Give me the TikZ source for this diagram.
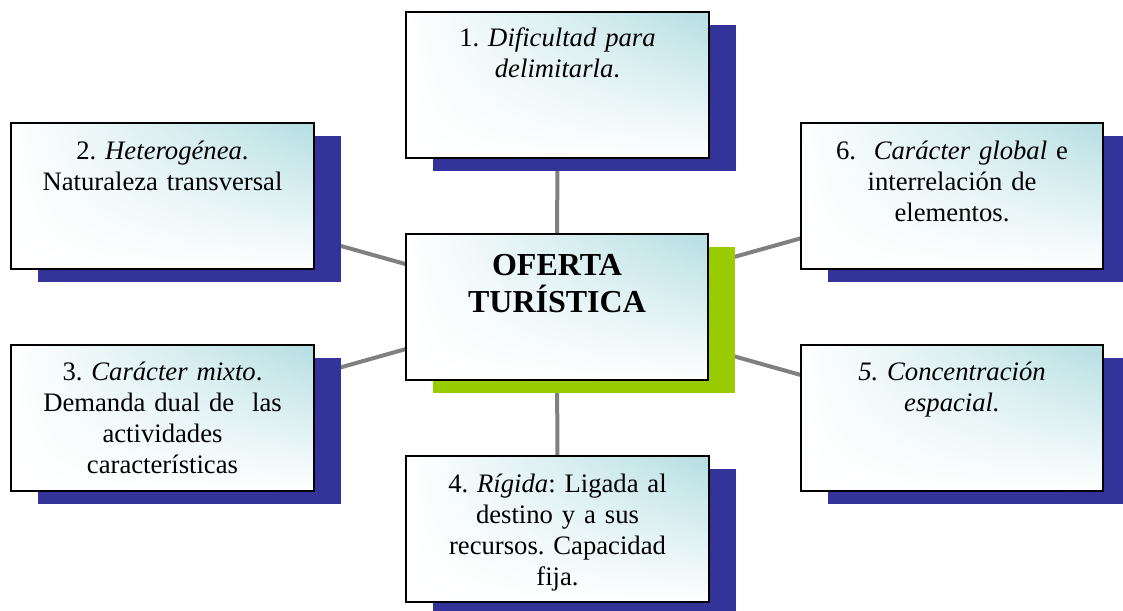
\documentclass[tikz,border=0pt]{standalone}
\usepackage{fontspec}
\setmainfont{Liberation Serif}
\frenchspacing
\usetikzlibrary{positioning,shadows,shadings,backgrounds,calc}

\begin{document}
\begin{tikzpicture}[
            x=0.75pt,y=-0.75pt,
            box/.style={draw=black,line width=1.5pt,inner sep=0pt,
                minimum width=227pt,minimum height=109.5pt,
                upper right=boxtop,upper left=white,lower left=white,lower right=white,
                general shadow={fill=#1,shadow xshift=20.25pt,shadow yshift=-9.75pt}},
            box/.default=shadowblue,
            link/.style={draw=linkgray,line width=3pt},
            txt/.style={anchor=base,text width=225pt,align=center,
                font=\fontsize{20}{23.25}\selectfont},
            hubtxt/.style={txt,font=\fontsize{24}{27.75}\selectfont\bfseries}
        ]

        % Define colors
        \definecolor{boxtop}{RGB}{180,222,226}
        \definecolor{shadowblue}{RGB}{51,51,153}
        \definecolor{shadowgreen}{RGB}{153,204,0}
        \definecolor{linkgray}{RGB}{128,128,128}

        \useasboundingbox (0,0) rectangle (1123,610);

        % Draw the boxes
        \node[box=shadowgreen] (hub) at (557,306.5) {};
        \node[box] (b1) at (557.5,85) {};
        \node[box] (b2) at (162.5,196) {};
        \node[box] (b3) at (162.5,417.5) {};
        \node[box] (b4) at (557.5,529) {};
        \node[box] (b5) at (952,417.5) {};
        \node[box] (b6) at (952,196) {};

        % Texts of the boxes
        \node[hubtxt] (thub) at ([yshift=-32.25pt]hub.north) {OFERTA\\TURÍSTICA};
        \node[txt] (t1) at ([yshift=-27pt]b1.north) {1. \textit{Dificultad para}\\\textit{delimitarla}.};
        \node[txt] (t2) at ([yshift=-27.75pt]b2.north) {2. \textit{Heterogénea}.\\Naturaleza transversal};
        \node[txt] (t3) at ([yshift=-27.75pt]b3.north) {3. \textit{Carácter mixto}.\\Demanda dual de\ \ las\\actividades\\características};
        \node[txt] (t4) at ([yshift=-27.75pt]b4.north) {4. \textit{Rígida}: Ligada al\\destino y a sus\\recursos. Capacidad\\fija.};
        \node[txt] (t5) at ([yshift=-27.75pt]b5.north) {\textit{5. Concentración}\\\textit{espacial.}};
        \node[txt] (t6) at ([yshift=-27.75pt]b6.north) {6.\ \ \textit{Carácter global} e\\interrelación de\\elementos.};

        % Draw the links behind
        \begin{scope}[on background layer]
            \foreach \b in {b1,b2,b3,b4,b5,b6}
                \draw[link] (hub.center) -- (\b.center);
        \end{scope}

        \end{tikzpicture}
\end{document}
